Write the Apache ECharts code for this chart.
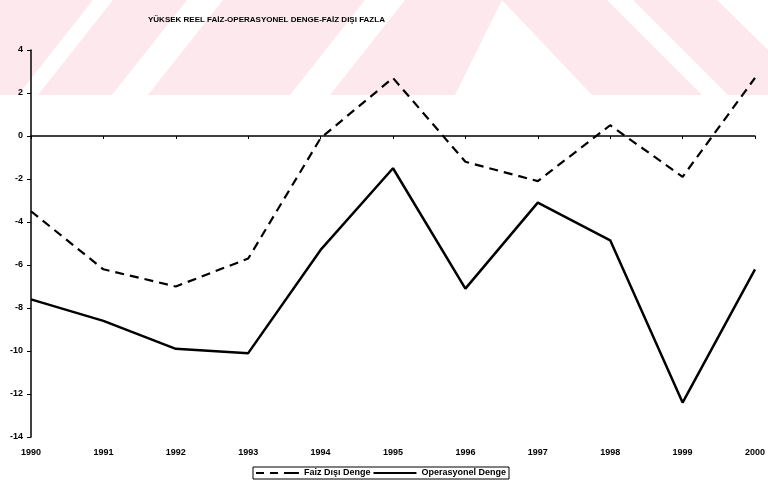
<!DOCTYPE html>
<html>
<head>
<meta charset="utf-8">
<script src="https://cdn.jsdelivr.net/npm/echarts@6/dist/echarts.min.js"></script>
<style>html,body{margin:0;padding:0;background:#fff}#c{width:768px;height:486px}</style>
</head>
<body>
<div id="c"></div>
<script>
const years = ['1990','1991','1992','1993','1994','1995','1996','1997','1998','1999','2000'];
const faizDisiDenge = [-3.5, -6.2, -7.0, -5.7, -0.1, 2.7, -1.2, -2.1, 0.5, -1.9, 2.7];
const operasyonelDenge = [-7.6, -8.6, -9.9, -10.1, -5.3, -1.5, -7.1, -3.1, -4.85, -12.4, -6.2];
const titleText = 'YÜKSEK REEL FAİZ-OPERASYONEL DENGE-FAİZ DIŞI FAZLA';

// background watermark (decorative)
const pink = '#fde9ed';
const whiteShapes = [
  [[18,95],[38,95],[113,0],[93,0]],
  [[112,95],[148,95],[223,0],[187,0]],
  [[290,95],[330,95],[405,0],[365,0]],
  [[502,0],[455,95],[592,95]],
  [[607,0],[633,0],[728,95],[702,95]],
  [[717,0],[768,0],[768,50]]
];
const graphics = [{type:'rect', shape:{x:0,y:0,width:768,height:95}, style:{fill:pink}, z:-10, silent:true}];
whiteShapes.forEach(p => graphics.push({type:'polygon', shape:{points:p}, style:{fill:'#fff'}, z:-9, silent:true}));

const font = '"Liberation Sans", Arial, sans-serif';
const dashIcon = 'path://M0,0h0.01v0.01h-0.01z M43,10h0.01v0.01h-0.01z M0,4h8v2h-8z M14,4h8v2h-8z M28,4h15v2h-15z';
const solidIcon = 'path://M0,0h0.01v0.01h-0.01z M43,10h0.01v0.01h-0.01z M0,4h43v2h-43z';

const chart = echarts.init(document.getElementById('c'), null, {renderer:'canvas'});
chart.setOption({
  animation: false,
  backgroundColor: '#fff',
  graphic: graphics,
  title: {
    text: titleText, left: 143, top: 11,
    textStyle: {fontFamily: font, fontWeight: 'bold', fontSize: 8, color: '#000'}
  },
  legend: {
    left: 253, top: 467,
    itemWidth: 43, itemHeight: 10, itemGap: 3,
    padding: [1, 3, 1, 3],
    borderColor: '#000', borderWidth: 1,
    textStyle: {fontFamily: font, fontWeight: 'bold', fontSize: 9, color: '#000'},
    data: [
      {name: 'Faiz Dışı Denge', icon: dashIcon, itemStyle: {color: '#000'}},
      {name: 'Operasyonel Denge', icon: solidIcon, itemStyle: {color: '#000'}}
    ]
  },
  grid: {left: 31, right: 12, top: 50, bottom: 49, containLabel: false},
  xAxis: [
    {type:'category', data: years, boundaryGap: false, position: 'bottom',
     axisLine: {show: false}, axisTick: {show: false},
     axisLabel: {fontFamily: font, fontWeight: 'bold', fontSize: 9, color: '#000', margin: 11, interval: 0}},
    {type:'category', data: years, boundaryGap: false, position: 'bottom', offset: -301,
     axisLine: {show: true, onZero: false, lineStyle: {color: '#000', width: 1.5}},
     axisTick: {show: true, inside: false, length: 3, interval: 0, lineStyle: {color: '#000'}},
     axisLabel: {show: false}}
  ],
  yAxis: {
    type: 'value', min: -14, max: 4, interval: 2,
    splitLine: {show: false},
    axisLine: {show: true, onZero: false, lineStyle: {color: '#000', width: 1.5}},
    axisTick: {show: true, length: 4, lineStyle: {color: '#000'}},
    axisLabel: {fontFamily: font, fontWeight: 'bold', fontSize: 9, color: '#000', margin: 8}
  },
  series: [
    {name: 'Faiz Dışı Denge', type: 'line', data: faizDisiDenge, xAxisIndex: 0,
     symbol: 'none', lineStyle: {color: '#000', width: 2.2, type: [9, 6]}, itemStyle: {color: '#000'}},
    {name: 'Operasyonel Denge', type: 'line', data: operasyonelDenge, xAxisIndex: 0,
     symbol: 'none', lineStyle: {color: '#000', width: 2.5, type: 'solid'}, itemStyle: {color: '#000'}}
  ]
});
</script>
</body>
</html>
